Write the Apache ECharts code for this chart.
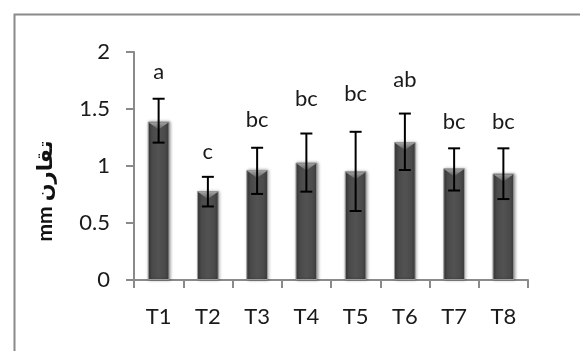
<!DOCTYPE html>
<html>
<head>
<meta charset="utf-8">
<script src="https://cdn.jsdelivr.net/npm/echarts@6/dist/echarts.min.js"></script>
<style>html,body{margin:0;padding:0;background:#fff;}#c{width:580px;height:351px;}</style>
</head>
<body>
<div id="c"></div>
<script>
const categories = ['T1', 'T2', 'T3', 'T4', 'T5', 'T6', 'T7', 'T8'];
const means      = [1.39, 0.78, 0.965, 1.03, 0.955, 1.21, 0.98, 0.935];
const errUpper   = [1.59, 0.905, 1.16, 1.285, 1.30, 1.46, 1.155, 1.155];
const errLower   = [1.205, 0.645, 0.755, 0.775, 0.605, 0.965, 0.785, 0.71];
const letters    = ['a', 'c', 'bc', 'bc', 'bc', 'ab', 'bc', 'bc'];
const letterPos  = [1.77, 1.07, 1.35, 1.54, 1.58, 1.70, 1.33, 1.33];
const yTitle = 'mm تقارن';

const FONT = 'Lato, "Liberation Sans", "DejaVu Sans", sans-serif';
const chart = echarts.init(document.getElementById('c'), null, {renderer: 'canvas'});

const customData = categories.map((c, i) => [i, means[i], errUpper[i], errLower[i], letterPos[i]]);

chart.setOption({
  animation: false,
  backgroundColor: '#fff',
  grid: {left: 134, right: 52, top: 52, bottom: 71},
  graphic: [
    {type: 'rect', left: 12, top: 12, z: 0, shape: {x: 0, y: 0, width: 700, height: 500},
     style: {fill: 'none', stroke: '#8a8a8a', lineWidth: 2}},
    {type: 'text', x: 45, y: 191, rotation: Math.PI / 2, z: 10,
     style: {text: yTitle, font: 'bold 21px ' + FONT, fill: '#111', align: 'center', verticalAlign: 'middle'}}
  ],
  xAxis: {
    type: 'category', data: categories,
    axisLine: {lineStyle: {color: '#8a8a8a', width: 2}},
    axisTick: {show: true, length: 8, lineStyle: {color: '#8a8a8a', width: 2}},
    axisLabel: {fontSize: 22, fontFamily: FONT, color: '#1a1a1a', margin: 26}
  },
  yAxis: {
    type: 'value', min: 0, max: 2, interval: 0.5,
    axisLine: {show: true, lineStyle: {color: '#8a8a8a', width: 2}},
    axisTick: {show: true, length: 8, lineStyle: {color: '#8a8a8a', width: 2}},
    splitLine: {show: false},
    axisLabel: {fontSize: 22, fontFamily: FONT, color: '#1a1a1a', margin: 24}
  },
  series: [
    {
      type: 'bar', data: means, barWidth: '44%',
      itemStyle: {
        color: {type: 'linear', x: 0, y: 0, x2: 1, y2: 0, colorStops: [
          {offset: 0, color: '#3a3a3a'}, {offset: 0.2, color: '#4a4a4a'},
          {offset: 0.5, color: '#525252'}, {offset: 0.8, color: '#4a4a4a'},
          {offset: 1, color: '#3a3a3a'}]},
        borderColor: '#9a9a9a', borderWidth: 1,
        shadowBlur: 3, shadowColor: 'rgba(0,0,0,0.35)', shadowOffsetX: 1, shadowOffsetY: 0
      }
    },
    {
      type: 'custom', data: customData, z: 5,
      renderItem: function (params, api) {
        const i = api.value(0);
        const x = api.coord([i, 0])[0];
        const band = api.size([1, 0])[0];
        const bw = band * 0.44;
        const top = api.coord([i, api.value(1)])[1];
        const hi = api.coord([i, api.value(2)])[1];
        const lo = api.coord([i, api.value(3)])[1];
        const lab = api.coord([i, api.value(4)])[1];
        const cap = 6;
        const ls = {stroke: '#000', lineWidth: 2};
        return {type: 'group', children: [
          {type: 'polygon', shape: {points: [[x - bw / 2 + 1, top + 1], [x + bw / 2 - 1, top + 1], [x, top + 8]]},
           style: {fill: {type: 'linear', x: 0, y: 0, x2: 0, y2: 1, colorStops: [
             {offset: 0, color: '#a0a0a0'}, {offset: 1, color: '#606060'}]}}},
          {type: 'line', shape: {x1: x, y1: hi, x2: x, y2: lo}, style: ls},
          {type: 'line', shape: {x1: x - cap, y1: hi, x2: x + cap, y2: hi}, style: ls},
          {type: 'line', shape: {x1: x - cap, y1: lo, x2: x + cap, y2: lo}, style: ls},
          {type: 'text', x: x, y: lab + 5,
           style: {text: letters[i], font: '22px ' + FONT, fill: '#1a1a1a', align: 'center', verticalAlign: 'bottom'}}
        ]};
      }
    }
  ]
});
</script>
</body>
</html>
